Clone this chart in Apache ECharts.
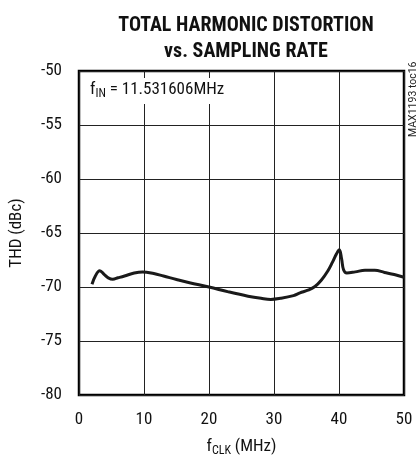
<!DOCTYPE html>
<html><head><meta charset="utf-8">
<script src="https://cdn.jsdelivr.net/npm/echarts@6/dist/echarts.min.js"></script>
<style>html,body{margin:0;padding:0;background:#fff}#c{width:418px;height:457px}</style>
</head><body><div id="c"></div>
<script>
const fclk = [2.0, 2.5, 3.2, 3.9, 4.5, 5.2, 6.0, 7.0, 8.5, 9.8, 11.5, 13, 15, 17, 20, 23, 26, 28, 29.5, 31, 33, 34, 35.2, 36.3, 37.3, 38.3, 39, 39.6, 40.05, 40.4, 40.7, 41.2, 42.5, 44, 45.5, 47, 48.5, 50];
const thd = [-69.75, -69.0, -68.5, -68.85, -69.15, -69.28, -69.15, -68.98, -68.7, -68.6, -68.75, -68.98, -69.3, -69.6, -70.0, -70.45, -70.85, -71.05, -71.15, -71.05, -70.8, -70.55, -70.3, -69.95, -69.35, -68.5, -67.7, -66.95, -66.55, -67.4, -68.4, -68.7, -68.6, -68.45, -68.45, -68.65, -68.85, -69.1];
const xTicks = [0, 10, 20, 30, 40, 50];
const yTicks = [-80, -75, -70, -65, -60, -55, -50];

const font = '"Roboto Condensed", "DejaVu Sans Condensed", sans-serif';
const chart = echarts.init(document.getElementById('c'), null, {renderer: 'canvas'});
chart.setOption({
  animation: false,
  title: {
    text: 'TOTAL HARMONIC DISTORTION\nvs. SAMPLING RATE',
    left: 241, top: 8, textAlign: 'center',
    textStyle: {fontFamily: font, fontWeight: 'bold', fontSize: 20, lineHeight: 26, color: '#111'}
  },
  grid: {left: 79, right: 14, top: 71, bottom: 62, show: true, borderColor: '#000', borderWidth: 2.5, containLabel: false, outerBoundsMode: 'none'},
  xAxis: {
    type: 'value', min: xTicks[0], max: xTicks[xTicks.length - 1], interval: 10,
    axisLine: {show: false}, axisTick: {show: false},
    splitLine: {show: true, lineStyle: {color: '#222', width: 1}},
    axisLabel: {fontFamily: font, fontSize: 17, color: '#111', margin: 16},
    name: '{m|f}{s|CLK}{m| (MHz)}', nameLocation: 'middle', nameGap: 42,
    nameTextStyle: {rich: {m: {fontFamily: font, fontSize: 17, color: '#111'}, s: {fontFamily: font, fontSize: 12, color: '#111', padding: [8, 0, 0, 0]}}}
  },
  yAxis: {
    type: 'value', min: yTicks[0], max: yTicks[yTicks.length - 1], interval: 5,
    axisLine: {show: false}, axisTick: {show: false},
    splitLine: {show: true, lineStyle: {color: '#222', width: 1}},
    axisLabel: {fontFamily: font, fontSize: 17, color: '#111', margin: 17},
    name: 'THD (dBc)', nameLocation: 'middle', nameGap: 54, nameRotate: 90,
    nameTextStyle: {fontFamily: font, fontSize: 17, color: '#111'}
  },
  graphic: [
    {type: 'text', left: 86, top: 78, z: 10, style: {
      text: '{m|f}{s|IN}{m| = 11.531606MHz}', fontFamily: font,
      backgroundColor: '#fff', padding: [2, 4, 4, 4],
      rich: {m: {fontFamily: font, fontSize: 17, fill: '#111'}, s: {fontFamily: font, fontSize: 12, fill: '#111', padding: [8, 0, 0, 0]}}
    }},
    {type: 'text', x: 413, y: 137, rotation: Math.PI / 2, style: {
      text: 'MAX1193 toc16', fontFamily: 'Roboto, sans-serif', fontSize: 10.5, fill: '#222', textAlign: 'left', textVerticalAlign: 'middle'
    }}
  ],
  series: [{
    type: 'line', smooth: 0.4, showSymbol: false,
    data: fclk.map((x, i) => [x, thd[i]]),
    lineStyle: {color: '#1a1a1a', width: 3}
  }]
});
</script></body></html>
